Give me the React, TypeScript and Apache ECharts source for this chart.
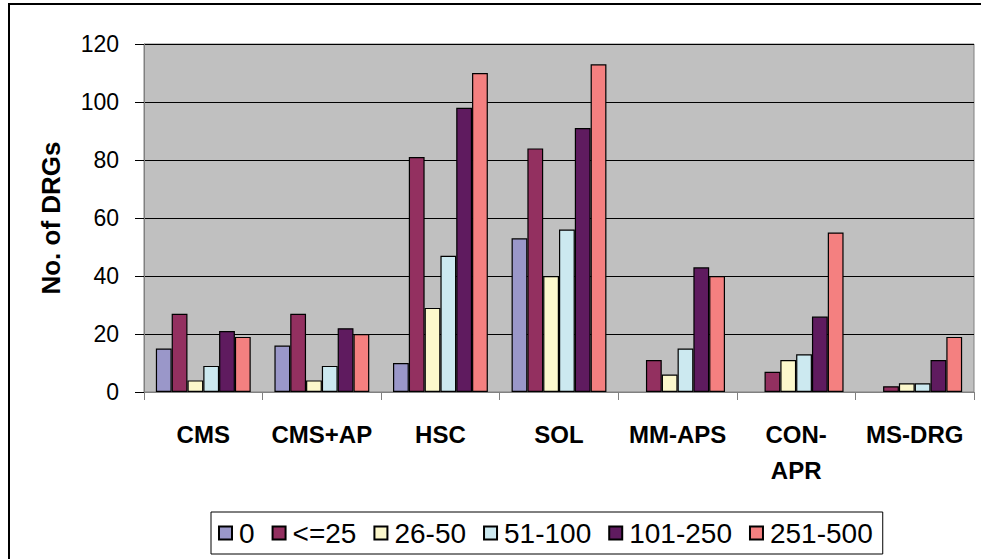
import React, { useEffect, useRef } from "react";
import * as echarts from "echarts";

const categories = ["CMS", "CMS+AP", "HSC", "SOL", "MM-APS", "CON-\nAPR", "MS-DRG"];
const seriesNames = ["0", "<=25", "26-50", "51-100", "101-250", "251-500"];
const s0 = [15, 16, 10, 53, 0, 0, 0];
const sLe25 = [27, 27, 81, 84, 11, 7, 2];
const s26to50 = [4, 4, 29, 40, 6, 11, 3];
const s51to100 = [9, 9, 47, 56, 15, 13, 3];
const s101to250 = [21, 22, 98, 91, 43, 26, 11];
const s251to500 = [19, 20, 110, 113, 40, 55, 19];
const yTicks = { min: 0, max: 120, interval: 20 };

const colors = ["#9a97c9", "#933060", "#fcf8cc", "#cce9f0", "#5f1b5f", "#f48080"];
const FONT = "'Liberation Sans', Arial, sans-serif";

export default function App() {
  const ref = useRef<HTMLDivElement>(null);
  useEffect(() => {
    if (!ref.current) return;
    const chart = echarts.init(ref.current, null, { renderer: "svg" });
    const all = [s0, sLe25, s26to50, s51to100, s101to250, s251to500];
    chart.setOption({
      animation: false,
      backgroundColor: "#ffffff",
      graphic: [
        {
          type: "rect",
          shape: { x: 9, y: 4, width: 990, height: 600 },
          style: { fill: "none", stroke: "#000", lineWidth: 2 },
          silent: true,
        },
      ],
      grid: {
        left: 144,
        top: 44,
        width: 830,
        height: 348,
        show: true,
        backgroundColor: "#c0c0c0",
        borderColor: "#808080",
        borderWidth: 1,
        outerBoundsMode: "none",
      },
      legend: {
        left: 211,
        top: 512,
        padding: [7, 10, 7, 7],
        borderColor: "#000",
        borderWidth: 1,
        itemWidth: 13,
        itemHeight: 13,
        itemGap: 17,
        icon: "rect",
        textStyle: { fontFamily: FONT, fontSize: 28, color: "#000", padding: [0, 0, 0, 2] },
        data: seriesNames,
      },
      xAxis: {
        type: "category",
        data: categories,
        axisLine: { lineStyle: { color: "#808080", width: 1 } },
        axisTick: { show: true, length: 8, lineStyle: { color: "#808080" } },
        axisLabel: {
          fontFamily: FONT,
          fontWeight: "bold",
          fontSize: 24,
          lineHeight: 36,
          color: "#000",
          margin: 24,
          interval: 0,
        },
      },
      yAxis: {
        type: "value",
        min: yTicks.min,
        max: yTicks.max,
        interval: yTicks.interval,
        name: "No. of DRGs",
        nameLocation: "middle",
        nameGap: 80,
        nameTextStyle: { fontFamily: FONT, fontWeight: "bold", fontSize: 26, color: "#000" },
        axisLine: { show: true, lineStyle: { color: "#808080" } },
        axisTick: { show: true, length: 9, lineStyle: { color: "#000" } },
        axisLabel: { fontFamily: FONT, fontSize: 23, color: "#000", margin: 25 },
        splitLine: { lineStyle: { color: "#000", width: 1 } },
      },
      series: seriesNames.map((name, i) => ({
        name,
        type: "bar",
        barGap: "0%",
        barCategoryGap: "20%",
        data: all[i].map((v) => (v === 0 ? null : v)),
        itemStyle: { color: colors[i], borderColor: "#000", borderWidth: 1.2 },
      })),
    });
    return () => chart.dispose();
  }, []);
  return (
    <div
      ref={ref}
      style={{ position: "absolute", left: 0, top: 0, width: 981, height: 559 }}
    />
  );
}
